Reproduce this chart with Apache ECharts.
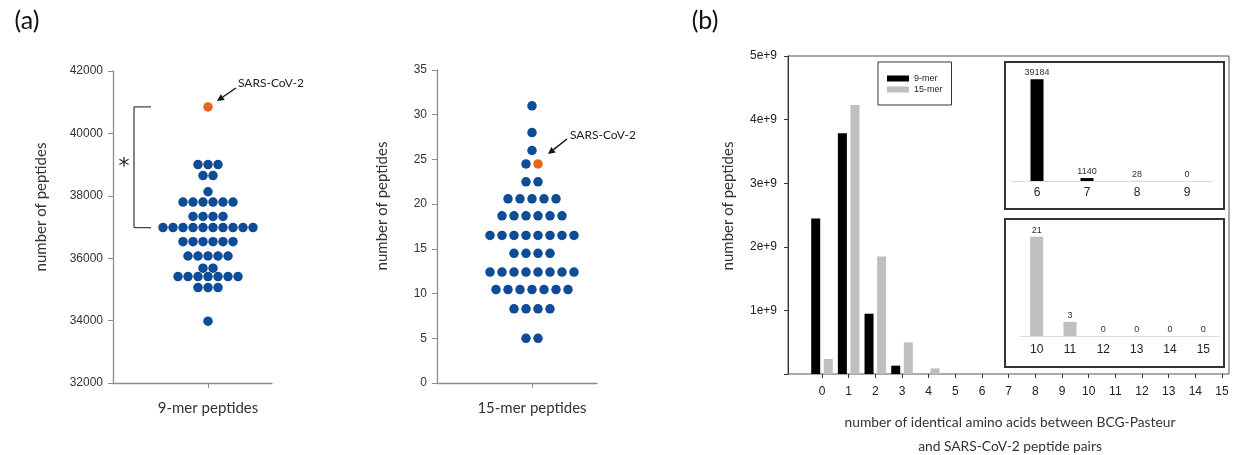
<!DOCTYPE html>
<html>
<head>
<meta charset="utf-8">
<script src="https://cdn.jsdelivr.net/npm/echarts@6/dist/echarts.min.js"></script>
<style>
  html, body { margin: 0; padding: 0; background: #fff; }
  #chart { width: 1234px; height: 455px; }
</style>
</head>
<body>
<div id="chart"></div>
<script>
// (a) 9-mer: dot rows (value, how many dots in the row)
const values9 = [39000, 38650, 38130, 37800, 37340, 36980, 36530, 36070, 35680, 35410, 35060, 33980];
const counts9 = [3, 2, 1, 6, 4, 10, 6, 5, 2, 7, 3, 1];
const sars9 = 40850;

// (a) 15-mer
const values15 = [31, 28, 26, 24.5, 22.5, 20.6, 18.7, 16.5, 14.5, 12.4, 10.45, 8.3, 5];
const counts15 = [1, 1, 1, 1, 2, 5, 6, 8, 4, 8, 7, 4, 2];
const sars15 = 24.5;

// (b) main histogram
const identCats = ['0', '1', '2', '3', '4', '5', '6', '7', '8', '9', '10', '11', '12', '13', '14', '15'];
const mer9 = [2.445e9, 3.785e9, 0.948e9, 0.131e9, 0, 0, 39184, 1140, 28, 0, null, null, null, null, null, null];
const mer15 = [0.236e9, 4.23e9, 1.848e9, 0.497e9, 0.089e9, 0, 0, 0, 0, 0, 21, 3, 0, 0, 0, 0];

// (b) insets
const inset9Cats = ['6', '7', '8', '9'];
const inset9Vals = [39184, 1140, 28, 0];
const inset15Cats = ['10', '11', '12', '13', '14', '15'];
const inset15Vals = [21, 3, 0, 0, 0, 0];

const BLUE = '#0f4c97';
const ORANGE = '#e9661e';
const GRAY = '#bfbfbf';
const AXIS = '#8c8c8c';
const TICKFONT = 'Liberation Sans';
const TITLEFONT = 'Lato';

// lay dots of each row side by side, SARS-CoV-2 takes the last slot of its row
function swarm(values, counts, sars, step) {
  const rows = values.map((v, i) => ({ v: v, n: counts[i], s: false }));
  const hit = rows.find(r => r.v === sars);
  if (hit) { hit.n += 1; hit.s = true; } else rows.push({ v: sars, n: 1, s: true });
  const blue = [], orange = [];
  rows.forEach(r => {
    for (let i = 0; i < r.n; i++) {
      const p = [(i - (r.n - 1) / 2) * step, r.v];
      if (r.s && i === r.n - 1) orange.push(p); else blue.push(p);
    }
  });
  return { blue, orange };
}

const sw9 = swarm(values9, counts9, sars9, 10);
const sw15 = swarm(values15, counts15, sars15, 12);

function arrow(x1, y1, x2, y2) {
  const a = Math.atan2(y2 - y1, x2 - x1), L = 7, W = 3.5;
  const bx = x2 - L * Math.cos(a), by = y2 - L * Math.sin(a);
  const nx = -Math.sin(a), ny = Math.cos(a);
  return [
    { type: 'line', shape: { x1: x1, y1: y1, x2: bx, y2: by }, style: { stroke: '#111', lineWidth: 1.4 } },
    { type: 'polygon', shape: { points: [[x2, y2], [bx + nx * W, by + ny * W], [bx - nx * W, by - ny * W]] }, style: { fill: '#111' } }
  ];
}

function txt(x, y, text, size, opts) {
  opts = opts || {};
  return {
    type: 'text', x: x, y: y, rotation: opts.rot || 0,
    style: {
      text: text, fill: opts.color || '#333',
      font: (opts.weight || 'normal') + ' ' + size + 'px ' + (opts.family || TITLEFONT),
      align: opts.align || 'center', textAlign: opts.align || 'center',
      verticalAlign: 'middle', textVerticalAlign: 'middle',
      lineHeight: opts.lh || size
    }
  };
}

function dotAxisY(min, max, interval) {
  return {
    min: min, max: max, interval: interval,
    axisLine: { show: true, onZero: false, lineStyle: { color: AXIS, width: 1.3 } },
    axisTick: { show: true, length: 5, lineStyle: { color: AXIS } },
    axisLabel: { margin: 10, fontSize: 12, color: '#333', fontFamily: TICKFONT, formatter: v => String(v) },
    splitLine: { show: false }
  };
}

function dotAxisX(min, max, name) {
  return {
    type: 'value', min: min, max: max,
    axisLine: { show: true, onZero: false, lineStyle: { color: AXIS, width: 1.3 } },
    axisTick: { show: true, length: 5, customValues: [0], lineStyle: { color: AXIS } },
    axisLabel: { customValues: [0], formatter: () => name, margin: 18, fontSize: 15, color: '#333', fontFamily: TITLEFONT },
    splitLine: { show: false }
  };
}

const chart = echarts.init(document.getElementById('chart'));

const dotStyle = c => ({ color: c, opacity: 1 });

const option = {
  animation: false,
  textStyle: { fontFamily: TICKFONT },
  grid: [
    { left: 113, top: 71, width: 159, height: 312 },
    { left: 437, top: 70, width: 160, height: 313 },
    { left: 788, top: 56, width: 441, height: 318, show: true, borderColor: '#555', borderWidth: 1 },
    { left: 808.67, top: 56, width: 426.67, height: 318, outerBoundsMode: 'none' },
    { left: 1012, top: 72, width: 200, height: 109 },
    { left: 1020, top: 232, width: 200, height: 104 }
  ],
  xAxis: [
    Object.assign(dotAxisX(-95, 64, '9-mer peptides'), { gridIndex: 0 }),
    Object.assign(dotAxisX(-95, 65, '15-mer peptides'), { gridIndex: 1 }),
    { gridIndex: 2, type: 'value', min: 0, max: 1, axisLine: { show: false }, axisTick: { show: false }, axisLabel: { show: false }, splitLine: { show: false } },
    {
      gridIndex: 3, type: 'category', data: identCats,
      axisLine: { show: false },
      axisTick: { show: true, alignWithLabel: true, length: 4, lineStyle: { color: '#333' } },
      axisLabel: { margin: 12, fontSize: 12, color: '#222', fontFamily: TICKFONT }
    },
    {
      gridIndex: 4, type: 'category', data: inset9Cats,
      axisLine: { show: true, lineStyle: { color: '#dcdcdc' } }, axisTick: { show: false },
      axisLabel: { margin: 6, fontSize: 12, color: '#222', fontFamily: TICKFONT }
    },
    {
      gridIndex: 5, type: 'category', data: inset15Cats,
      axisLine: { show: true, lineStyle: { color: '#dcdcdc' } }, axisTick: { show: false },
      axisLabel: { margin: 8, fontSize: 12, color: '#222', fontFamily: TICKFONT }
    }
  ],
  yAxis: [
    Object.assign(dotAxisY(32000, 42000, 2000), { gridIndex: 0 }),
    Object.assign(dotAxisY(0, 35, 5), { gridIndex: 1 }),
    {
      gridIndex: 2, min: 0, max: 5e9, interval: 1e9,
      axisLine: { show: true, onZero: false, lineStyle: { color: '#333' } },
      axisTick: { show: true, length: 4, lineStyle: { color: '#333' } },
      axisLabel: { margin: 11, fontSize: 12, color: '#222', fontFamily: TICKFONT, formatter: v => v === 0 ? '' : (v / 1e9) + 'e+9' },
      splitLine: { show: false }
    },
    { gridIndex: 3, min: 0, max: 5e9, show: false },
    { gridIndex: 4, min: 0, max: 42000, show: false },
    { gridIndex: 5, min: 0, max: 22, show: false }
  ],
  legend: {
    left: 878, top: 62, orient: 'vertical',
    data: ['9-mer', '15-mer'], icon: 'rect',
    itemWidth: 22, itemHeight: 6, itemGap: 2,
    padding: [12, 9, 11, 9],
    borderColor: '#333', borderWidth: 1,
    textStyle: { fontSize: 9, lineHeight: 9, color: '#222', fontFamily: TICKFONT }
  },
  series: [
    { type: 'scatter', xAxisIndex: 0, yAxisIndex: 0, data: sw9.blue, symbolSize: 9.5, itemStyle: dotStyle(BLUE) },
    { type: 'scatter', xAxisIndex: 0, yAxisIndex: 0, data: sw9.orange, symbolSize: 9.5, itemStyle: dotStyle(ORANGE) },
    { type: 'scatter', xAxisIndex: 1, yAxisIndex: 1, data: sw15.blue, symbolSize: 9.5, itemStyle: dotStyle(BLUE) },
    { type: 'scatter', xAxisIndex: 1, yAxisIndex: 1, data: sw15.orange, symbolSize: 9.5, itemStyle: dotStyle(ORANGE) },
    // bracket between SARS-CoV-2 and the main row
    {
      type: 'line', xAxisIndex: 0, yAxisIndex: 0, symbol: 'none', silent: true,
      data: [[-57, sars9], [-74, sars9], [-74, values9[5]], [-57, values9[5]]],
      lineStyle: { color: '#444', width: 1.3 }
    },
    { type: 'bar', name: '9-mer', xAxisIndex: 3, yAxisIndex: 3, data: mer9, barWidth: 9, barGap: '40%', itemStyle: { color: '#000' } },
    { type: 'bar', name: '15-mer', xAxisIndex: 3, yAxisIndex: 3, data: mer15, barWidth: 9, itemStyle: { color: GRAY } },
    {
      type: 'bar', name: 'inset 9-mer', xAxisIndex: 4, yAxisIndex: 4, data: inset9Vals, barWidth: 13,
      itemStyle: { color: '#000' },
      label: { show: true, position: 'top', distance: 2, fontSize: 9, color: '#333', fontFamily: TICKFONT }
    },
    {
      type: 'bar', name: 'inset 15-mer', xAxisIndex: 5, yAxisIndex: 5, data: inset15Vals, barWidth: 13,
      itemStyle: { color: GRAY },
      label: { show: true, position: 'top', distance: 2, fontSize: 9, color: '#333', fontFamily: TICKFONT }
    }
  ],
  graphic: [
    txt(27, 21, '(a)', 25, { align: 'center', color: '#111' }),
    txt(705, 21, '(b)', 25, { align: 'center', color: '#111' }),
    txt(41, 207, 'number of peptides', 15, { rot: Math.PI / 2 }),
    txt(382, 206, 'number of peptides', 15, { rot: Math.PI / 2 }),
    txt(728, 206, 'number of peptides', 15, { rot: Math.PI / 2 }),
    txt(1010, 435, 'number of identical amino acids between BCG-Pasteur\nand SARS-CoV-2 peptide pairs', 13.8, { lh: 24 }),
    txt(124, 167, '*', 22, { color: '#222', family: 'DejaVu Sans' }),
    txt(238, 83, 'SARS-CoV-2', 12, { align: 'left', color: '#222' }),
    txt(570, 135, 'SARS-CoV-2', 12, { align: 'left', color: '#222' }),
    ...arrow(236, 88, 217, 101),
    ...arrow(567, 139, 548, 154),
    { type: 'rect', shape: { x: 1005, y: 62, width: 219, height: 147 }, style: { fill: 'none', stroke: '#333', lineWidth: 2 } },
    { type: 'rect', shape: { x: 1005, y: 219, width: 219, height: 148 }, style: { fill: 'none', stroke: '#333', lineWidth: 2 } }
  ]
};

chart.setOption(option);
</script>
</body>
</html>
